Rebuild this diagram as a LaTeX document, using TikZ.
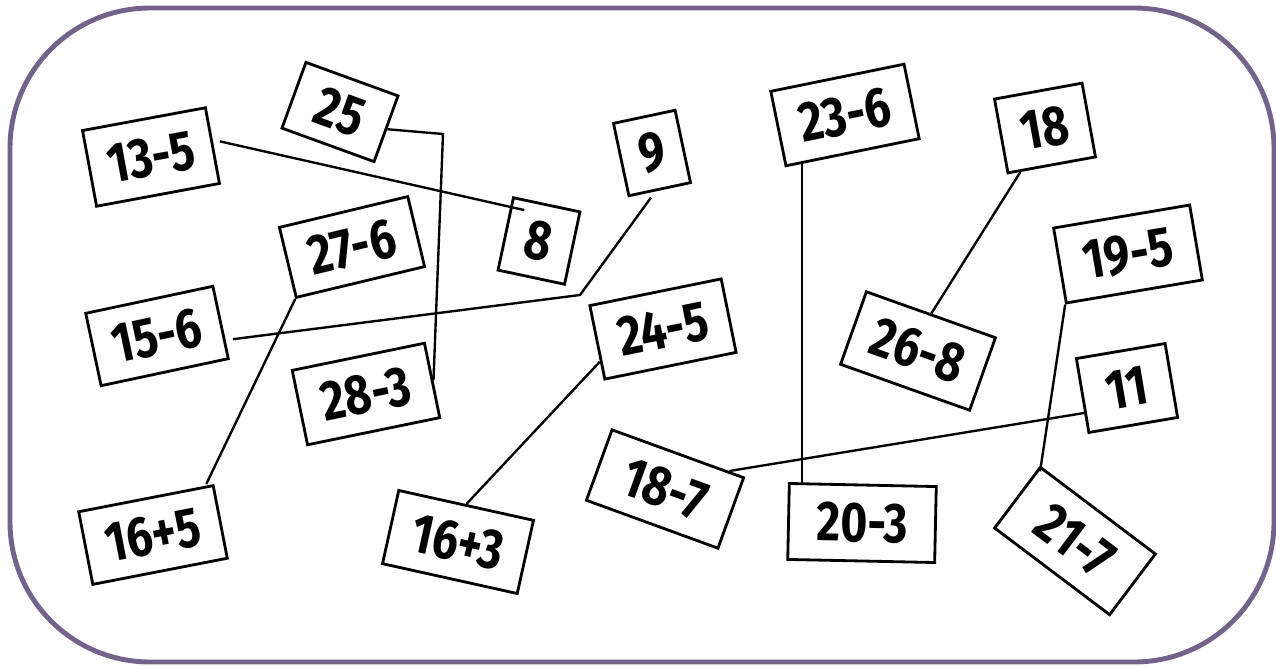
\documentclass[tikz,border=0pt]{standalone}
\usepackage{fontspec}
\usepackage{xcolor}
\usepackage{tikz}
\usetikzlibrary{calc}
\newfontfamily\cardfont{Fira Sans}[FakeStretch=0.82]
\definecolor{framepurple}{RGB}{115,99,138}

\begin{document}
\begin{tikzpicture}[x=0.02cm, y=-0.02cm,
  card/.style={rectangle, draw=black, line width=1.6pt, fill=white, inner sep=0pt, font=\cardfont\bfseries\fontsize{32}{32}\selectfont},
  link/.style={draw=black, line width=1.35pt}]
  \useasboundingbox (0,0) rectangle (1276,666);
  \draw[framepurple, line width=2.8pt, rounded corners=2.8cm] (10,8) rectangle (1274,662);

  \node[card, minimum width=2.5cm, minimum height=1.54cm, rotate=10.5] (c135) at (151,157) {13-5};
  \node[card, minimum width=1.96cm, minimum height=1.4cm, rotate=-20] (c25) at (340,112) {25};
  \node[card, minimum width=2.64cm, minimum height=1.44cm, rotate=13.5] (c276) at (352,247) {27-6};
  \node[card, minimum width=1.36cm, minimum height=1.48cm, rotate=-12] (c8) at (539,241) {8};
  \node[card, minimum width=1.26cm, minimum height=1.48cm, rotate=12] (c9) at (652,153) {9};
  \node[card, minimum width=2.6cm, minimum height=1.48cm, rotate=12] (c156) at (157,336) {15-6};
  \node[card, minimum width=2.7cm, minimum height=1.52cm, rotate=11.6] (c283) at (366,394) {28-3};
  \node[card, minimum width=2.68cm, minimum height=1.5cm, rotate=11.5] (c245) at (663,329) {24-5};
  \node[card, minimum width=2.74cm, minimum height=1.48cm, rotate=11] (c165) at (153,535) {16+5};
  \node[card, minimum width=2.76cm, minimum height=1.5cm, rotate=-12.5] (c163) at (458,542) {16+3};
  \node[card, minimum width=2.8cm, minimum height=1.5cm, rotate=-20] (c187) at (665,489) {18-7};
  \node[card, minimum width=2.72cm, minimum height=1.52cm, rotate=11.5] (c236) at (845,115) {23-6};
  \node[card, minimum width=1.78cm, minimum height=1.5cm, rotate=10.3] (c18) at (1045,128) {18};
  \node[card, minimum width=2.76cm, minimum height=1.52cm, rotate=9.6] (c195) at (1128,254) {19-5};
  \node[card, minimum width=2.74cm, minimum height=1.54cm, rotate=-19.6] (c268) at (918,351) {26-8};
  \node[card, minimum width=1.8cm, minimum height=1.5cm, rotate=9.6] (c11) at (1127,388) {11};
  \node[card, minimum width=2.94cm, minimum height=1.52cm, rotate=-1.2] (c203) at (862,523) {20-3};
  \node[card, minimum width=2.88cm, minimum height=1.52cm, rotate=-37] (c217) at (1075,541) {21-7};

  \coordinate (k25) at (443,134);
  \coordinate (k9) at (580,295);

  \draw[link] ([shift={(6,-4)}]c135.east) -- ([shift={(12,14)}]c8.north west);
  \draw[link] (c25.east) -- (k25) -- (c283.east);
  \draw[link] ([shift={(-9,7)}]c9.south) -- (k9) -- ([shift={(11,17)}]c156.east);
  \draw[link] (c276.south west) -- ([shift={(-8,0)}]c165.north east);
  \draw[link] ($(c245.west)!0.5!(c245.south west)$) -- (c163.north);
  \draw[link] ($(c236.south west)!0.127!(c236.south east)$) coordinate (t236) -- (t236 |- c203.north);
  \draw[link] ($(c18.south west)!0.15!(c18.south east)$) -- (c268.north);
  \draw[link] (c195.south west) -- ([shift={(0,6)}]c217.north west);
  \draw[link] ($(c11.west)!0.45!(c11.south west)$) -- ($(c187.north east)!0.12!(c187.north west)$);
\end{tikzpicture}
\end{document}
